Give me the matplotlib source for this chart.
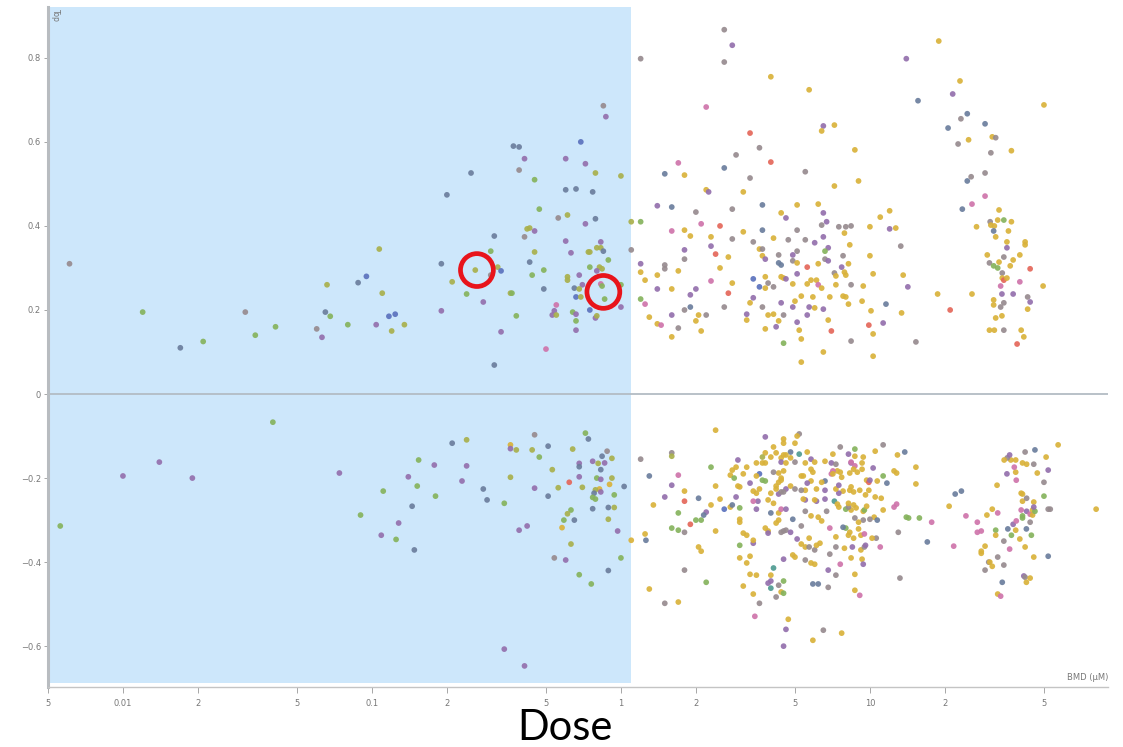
import matplotlib
matplotlib.use("Agg")
import matplotlib.pyplot as plt
from matplotlib.ticker import FixedLocator, FixedFormatter, NullLocator

# ---------------- data ----------------
# Region A: shaded area, positive Top
a_dose = [0.0061, 0.012, 0.017, 0.021, 0.031, 0.034, 0.041, 0.06, 0.063, 0.066,
          0.065, 0.068, 0.08, 0.088, 0.095, 0.107, 0.11, 0.104, 0.12, 0.117,
          0.124, 0.135, 0.85, 0.87, 0.37, 0.39, 0.69, 0.25, 0.41, 0.60,
          0.72, 0.39, 0.79, 1.0, 0.45, 0.20, 0.60, 0.66, 0.77, 0.47,
          0.56, 0.61, 0.79, 0.72, 0.42, 0.43, 0.45, 0.31, 0.41, 0.60,
          0.83, 0.80, 0.83, 0.85, 0.30, 0.45, 0.63, 0.74, 0.75, 0.89,
          0.19, 0.32, 0.43, 0.75, 0.82, 0.84, 0.80, 0.26, 0.30, 0.33,
          0.21, 0.44, 0.49, 0.61, 0.61, 0.68, 0.70, 0.65, 0.68, 0.83,
          0.84, 0.86, 0.66, 0.69, 0.24, 0.28, 0.36, 0.365, 0.49, 1.0,
          1.0, 0.55, 0.54, 0.53, 0.55, 0.64, 0.66, 0.75, 0.79, 0.80,
          0.66, 0.38, 0.19, 0.66, 0.33, 0.50, 0.31]
a_top = [0.31, 0.195, 0.11, 0.125, 0.195, 0.14, 0.16, 0.155, 0.135, 0.26,
         0.195, 0.185, 0.165, 0.265, 0.28, 0.345, 0.24, 0.165, 0.15, 0.185,
         0.19, 0.165, 0.686, 0.66, 0.59, 0.588, 0.60, 0.526, 0.56, 0.56,
         0.548, 0.533, 0.526, 0.519, 0.51, 0.474, 0.486, 0.488, 0.481, 0.44,
         0.419, 0.426, 0.417, 0.405, 0.393, 0.395, 0.388, 0.376, 0.374, 0.364,
         0.362, 0.348, 0.348, 0.34, 0.34, 0.338, 0.336, 0.338, 0.338, 0.319,
         0.31, 0.302, 0.314, 0.302, 0.302, 0.298, 0.293, 0.295, 0.283, 0.293,
         0.267, 0.283, 0.295, 0.279, 0.271, 0.283, 0.26, 0.252, 0.25, 0.262,
         0.257, 0.226, 0.231, 0.231, 0.238, 0.219, 0.24, 0.24, 0.25, 0.26,
         0.207, 0.212, 0.198, 0.188, 0.188, 0.195, 0.19, 0.2, 0.181, 0.186,
         0.174, 0.186, 0.198, 0.152, 0.148, 0.107, 0.069]
a_grp = ("ynsnynnypo" "snnsboopob" "boypssbspp" "pyoonssssn" "yospoopsyp"
         "poosnopoon" "sosnoopoyb" "onnooppsok" "nnbonponsn" "pkpponpbpo"
         "nnpppks")

# Region B: shaded area, negative Top
b_dose = [0.04, 0.01, 0.014, 0.019, 0.0056, 0.074, 0.154, 0.178, 0.14, 0.152,
          0.18, 0.111, 0.09, 0.145, 0.128, 0.109, 0.125, 0.148, 0.21, 0.24,
          0.24, 0.23, 0.28, 0.29, 0.34, 0.36, 0.36, 0.38, 0.45, 0.44,
          0.47, 0.51, 0.36, 0.45, 0.51, 0.53, 0.64, 0.72, 0.74, 0.68,
          0.68, 0.77, 0.81, 0.84, 0.86, 0.88, 0.92, 0.83, 0.68, 0.62,
          0.56, 0.70, 0.80, 0.83, 0.92, 0.90, 0.82, 0.79, 0.83, 0.78,
          0.77, 0.79, 1.03, 0.94, 0.77, 0.89, 0.94, 0.63, 0.61, 0.59,
          0.65, 0.58, 0.89, 0.97, 0.39, 0.42, 0.63, 1.1, 0.54, 0.60,
          1.0, 0.89, 0.68, 0.76, 0.34, 0.41]
b_top = [-0.067, -0.195, -0.162, -0.2, -0.314, -0.188, -0.157, -0.169, -0.197, -0.219,
         -0.243, -0.231, -0.288, -0.267, -0.307, -0.336, -0.346, -0.371, -0.117, -0.109,
         -0.171, -0.207, -0.226, -0.252, -0.26, -0.121, -0.13, -0.133, -0.097, -0.133,
         -0.15, -0.124, -0.198, -0.224, -0.243, -0.18, -0.131, -0.093, -0.107, -0.165,
         -0.173, -0.16, -0.165, -0.148, -0.164, -0.136, -0.153, -0.18, -0.197, -0.21,
         -0.223, -0.222, -0.2, -0.203, -0.2, -0.215, -0.226, -0.228, -0.233, -0.236,
         -0.246, -0.25, -0.22, -0.24, -0.273, -0.27, -0.27, -0.276, -0.285, -0.3,
         -0.3, -0.318, -0.298, -0.326, -0.324, -0.314, -0.357, -0.348, -0.39, -0.395,
         -0.39, -0.42, -0.43, -0.452, -0.607, -0.647]
b_grp = ("npppnpnppn" "nnnsppnsso" "ppssngpoyo" "nsopsoonsp" "spospyospr"
         "oonpoggops" "nnsnssonon" "sgopppogyp" "nsnnpp")

# Region C: right of shading (1.1 - 14.5), positive Top
c_dose = [2.6, 2.8, 2.6, 1.2, 14, 4.0, 5.7, 2.2, 6.5, 6.4,
          7.2, 3.3, 3.6, 4.0, 2.9, 2.6, 1.7, 1.5, 1.8, 5.5,
          8.7, 9.0, 3.3, 7.2, 2.2, 2.25, 3.1, 1.4, 1.6, 2.8,
          3.7, 5.1, 6.2, 4.4, 4.6, 1.1, 1.2, 2.0, 6.5, 6.7,
          6.4, 1.6, 1.8, 2.1, 2.5, 3.7, 3.1, 5.1, 7.5, 8.0,
          8.4, 10, 11, 12, 12, 12.7, 1.9, 2.3, 2.8, 4.1,
          4.7, 5.5, 6.0, 6.5, 7.9, 8.3, 1.1, 1.8, 2.3, 3.4,
          3.6, 3.7, 5.1, 6.8, 13.3, 1.2, 1.5, 1.5, 1.8, 2.4,
          2.7, 3.7, 3.8, 4.3, 4.9, 4.9, 5.1, 6.2, 6.6, 6.6,
          6.8, 7.8, 8.2, 10, 1.2, 1.25, 1.4, 1.7, 1.4, 1.6,
          2.0, 2.3, 2.5, 2.8, 2.7, 3.4, 3.6, 3.8, 3.8, 3.9,
          4.1, 4.3, 4.4, 4.4, 4.5, 4.6, 4.9, 5.1, 5.6, 5.6,
          5.8, 6.1, 6.2, 6.4, 7.2, 7.3, 7.7, 7.9, 8.0, 7.3,
          8.4, 9.4, 10.3, 13.6, 14.2, 1.2, 1.25, 1.3, 1.4, 1.45,
          1.6, 1.7, 1.6, 1.8, 1.9, 1.9, 2.05, 2.0, 2.1, 2.2,
          2.6, 3.2, 3.2, 3.3, 3.4, 3.7, 3.8, 3.9, 4.1, 4.2,
          4.3, 4.4, 4.5, 4.5, 4.9, 5.0, 5.1, 5.2, 5.3, 5.3,
          5.3, 5.6, 5.7, 5.9, 6.0, 6.5, 6.8, 6.9, 6.5, 7.0,
          7.8, 8.0, 8.2, 8.4, 9.3, 10.1, 9.9, 10.3, 10.3, 11.3,
          11.6, 13.4]
c_top = [0.867, 0.83, 0.79, 0.798, 0.798, 0.755, 0.724, 0.683, 0.638, 0.626,
         0.64, 0.621, 0.586, 0.552, 0.569, 0.538, 0.55, 0.524, 0.521, 0.529,
         0.581, 0.507, 0.514, 0.495, 0.486, 0.481, 0.481, 0.448, 0.445, 0.44,
         0.45, 0.45, 0.452, 0.431, 0.419, 0.41, 0.41, 0.433, 0.431, 0.41,
         0.402, 0.388, 0.39, 0.405, 0.40, 0.39, 0.386, 0.39, 0.398, 0.398,
         0.40, 0.398, 0.421, 0.436, 0.393, 0.395, 0.376, 0.374, 0.369, 0.371,
         0.367, 0.367, 0.36, 0.374, 0.383, 0.355, 0.343, 0.343, 0.352, 0.362,
         0.345, 0.345, 0.34, 0.348, 0.352, 0.31, 0.307, 0.298, 0.321, 0.333,
         0.326, 0.329, 0.321, 0.331, 0.331, 0.317, 0.312, 0.31, 0.321, 0.34,
         0.317, 0.329, 0.31, 0.329, 0.29, 0.271, 0.283, 0.293, 0.25, 0.25,
         0.25, 0.269, 0.30, 0.264, 0.24, 0.274, 0.255, 0.279, 0.252, 0.264,
         0.255, 0.312, 0.307, 0.279, 0.276, 0.274, 0.262, 0.286, 0.302, 0.262,
         0.271, 0.271, 0.26, 0.252, 0.288, 0.281, 0.302, 0.29, 0.283, 0.26,
         0.26, 0.257, 0.286, 0.283, 0.255, 0.226, 0.214, 0.183, 0.167, 0.164,
         0.136, 0.157, 0.188, 0.2, 0.207, 0.236, 0.188, 0.174, 0.15, 0.188,
         0.207, 0.19, 0.176, 0.217, 0.229, 0.207, 0.155, 0.188, 0.19, 0.16,
         0.174, 0.217, 0.188, 0.121, 0.207, 0.221, 0.171, 0.152, 0.131, 0.076,
         0.233, 0.188, 0.207, 0.231, 0.205, 0.202, 0.176, 0.231, 0.1, 0.15,
         0.233, 0.231, 0.214, 0.126, 0.221, 0.198, 0.164, 0.143, 0.09, 0.169,
         0.214, 0.193]
c_grp = ("ypyypggkpg" "gryrysksgy" "ggyggpgpsy" "sgggponypp" "ykgkrsgyyy"
         "ygggpgggyg" "yyppggyppy" "gyypypyyyr" "ggpypyggyn" "pyggggggpg"
         "pkggrbbggy" "yssggpgprg" "ggkgygpggg" "ygggpnkggk" "gypyspgggy"
         "ypggpygggp" "gpynpgpggg" "gppggpgggr" "gggyggrggp" "sg")

# Region D: far right (> 14.5), positive Top
d_dose = [18.9, 23, 21.5, 15.6, 50, 24.6, 23.2, 20.6, 29, 31,
          32, 22.6, 24.9, 30.6, 37, 29, 24.6, 25.5, 29, 25.7,
          23.5, 33, 30.4, 32.6, 34.5, 37, 30.6, 31.6, 31.4, 26.8,
          36, 32, 42, 42, 35.5, 35.5, 34.5, 40, 29.6, 30.2,
          31.4, 32.6, 33, 37.6, 36.6, 34, 34, 34.5, 35.5, 44,
          40, 49.6, 33.5, 33.9, 37.6, 34.5, 31.4, 31.4, 33.5, 43,
          44, 43, 32, 33.9, 30.2, 31.6, 34.5, 40.5, 41.5, 39,
          18.7, 25.7, 21, 15.3]
d_top = [0.84, 0.745, 0.714, 0.698, 0.688, 0.667, 0.655, 0.633, 0.643, 0.612,
         0.61, 0.595, 0.605, 0.574, 0.579, 0.526, 0.507, 0.517, 0.471, 0.452,
         0.44, 0.438, 0.41, 0.414, 0.414, 0.41, 0.402, 0.40, 0.388, 0.398,
         0.388, 0.374, 0.362, 0.355, 0.362, 0.348, 0.326, 0.331, 0.331, 0.312,
         0.305, 0.30, 0.314, 0.319, 0.305, 0.288, 0.276, 0.271, 0.276, 0.298,
         0.267, 0.257, 0.257, 0.238, 0.238, 0.217, 0.224, 0.212, 0.207, 0.231,
         0.219, 0.202, 0.181, 0.186, 0.152, 0.152, 0.152, 0.152, 0.136, 0.119,
         0.238, 0.238, 0.2, 0.124]
d_grp = ("ggpsgsyssg" "yygygysykk" "sgygngggsg" "gggggpyggy" "nngggygrgr"
         "kgkppyggyy" "pgggggyggr" "ggry")

# Region E: right of shading (1.1 - 14.5), negative Top
e_dose = [2.4, 3.8, 5.2, 5.1, 4.5, 4.5, 5.0, 4.1, 7.6, 8.7,
          11.3, 13.8, 12.9, 10.5, 9.4, 8.7, 8.2, 7.1, 5.6, 4.8,
          5.2, 4.6, 4.5, 4.2, 3.8, 4.0, 4.4, 4.8, 3.7, 1.6,
          1.6, 1.2, 2.95, 3.5, 3.7, 3.8, 4.4, 4.6, 5.0, 5.5,
          5.8, 6.0, 6.6, 7.0, 7.3, 8.4, 9.3, 2.3, 1.7, 1.3,
          1.8, 1.5, 1.6, 2.4, 2.05, 2.5, 1.35, 1.7, 1.6, 1.7,
          1.8, 1.9, 1.8, 2.0, 2.1, 2.2, 2.15, 2.3, 2.4, 2.05,
          2.1, 1.8, 2.2, 1.7, 1.5, 1.3, 1.26, 1.25, 2.9, 2.8,
          2.75, 2.85, 2.95, 3.0, 2.9, 2.6, 2.75, 2.8, 3.0, 3.0,
          3.0, 3.1, 3.2, 3.0, 3.4, 3.4, 3.0, 3.2, 3.3, 3.5,
          3.1, 3.4, 3.6, 3.45, 3.2, 3.6, 3.5, 3.6, 3.7, 3.8,
          3.5, 3.55, 3.5, 3.4, 4.0, 4.2, 4.3, 4.4, 4.6, 4.3,
          4.4, 4.5, 4.8, 4.1, 4.0, 4.3, 4.4, 4.6, 4.9, 4.3,
          4.2, 3.8, 3.9, 3.9, 4.4, 4.5, 4.6, 4.8, 5.3, 5.1,
          5.3, 5.5, 5.7, 6.0, 6.3, 6.1, 5.7, 4.5, 4.9, 5.0,
          5.5, 5.8, 6.0, 4.1, 4.0, 4.0, 3.9, 4.3, 4.5, 4.0,
          4.2, 4.4, 4.5, 4.7, 4.6, 4.5, 5.9, 6.5, 7.7, 5.9,
          6.2, 6.8, 6.8, 7.3, 7.6, 8.7, 8.7, 9.1, 9.3, 9.4,
          8.4, 9.2, 9.5, 9.6, 7.3, 7.9, 8.5, 8.6, 8.3, 8.0,
          7.8, 7.3, 6.9, 6.9, 8.2, 9.0, 9.2, 9.5, 10.6, 10.2,
          11, 10.4, 10.0, 10.7, 11.3, 9.4, 9.0, 8.7, 9.4, 9.5,
          8.8, 8.4, 8.0, 7.5, 8.2, 6.7, 6.2, 5.8, 6.4, 5.5,
          6.1, 6.0, 6.6, 7.2, 7.4, 8.2, 8.6, 9.7, 10.5, 11.1,
          9.6, 9.9, 9.1, 8.3, 8.4, 8.6, 7.8, 7.5, 7.3, 7.5,
          6.6, 6.6, 6.1, 5.8, 5.5, 5.5, 5.6, 5.3, 5.3, 5.4,
          5.8, 5.9, 6.4, 7.4, 7.6, 7.1, 7.0, 7.7, 8.3, 8.7,
          8.6, 8.4, 9.7, 9.9, 10, 10.7, 11.3, 11.7, 12.5, 12.8,
          10.3, 9.3, 8.9, 7.1, 12.5, 12.8, 14, 14.3, 13, 13.2,
          4.4, 4.3, 4.1, 4.5, 3.1, 3.3, 3.4, 3.9, 5.4, 5.0,
          4.2, 3.3]
e_top = [-0.086, -0.102, -0.095, -0.1, -0.107, -0.117, -0.117, -0.126, -0.126, -0.131,
         -0.121, -0.138, -0.145, -0.136, -0.15, -0.148, -0.143, -0.143, -0.138, -0.138,
         -0.143, -0.145, -0.145, -0.14, -0.14, -0.15, -0.152, -0.152, -0.15, -0.14,
         -0.148, -0.155, -0.157, -0.164, -0.164, -0.164, -0.162, -0.164, -0.162, -0.164,
         -0.155, -0.162, -0.16, -0.164, -0.167, -0.164, -0.164, -0.174, -0.193, -0.195,
         -0.231, -0.245, -0.217, -0.219, -0.248, -0.25, -0.264, -0.283, -0.319, -0.324,
         -0.329, -0.31, -0.255, -0.3, -0.3, -0.281, -0.288, -0.264, -0.326, -0.364,
         -0.374, -0.419, -0.448, -0.495, -0.498, -0.464, -0.348, -0.333, -0.174, -0.181,
         -0.193, -0.2, -0.219, -0.221, -0.245, -0.274, -0.269, -0.264, -0.271, -0.298,
         -0.305, -0.331, -0.336, -0.36, -0.355, -0.348, -0.39, -0.402, -0.429, -0.431,
         -0.457, -0.476, -0.498, -0.529, -0.174, -0.19, -0.195, -0.226, -0.205, -0.207,
         -0.236, -0.255, -0.274, -0.255, -0.236, -0.219, -0.21, -0.205, -0.226, -0.238,
         -0.233, -0.233, -0.219, -0.26, -0.283, -0.283, -0.274, -0.274, -0.298, -0.3,
         -0.307, -0.319, -0.326, -0.331, -0.329, -0.326, -0.324, -0.329, -0.314, -0.345,
         -0.357, -0.364, -0.364, -0.371, -0.355, -0.36, -0.343, -0.393, -0.383, -0.388,
         -0.395, -0.402, -0.405, -0.414, -0.431, -0.445, -0.45, -0.455, -0.445, -0.462,
         -0.483, -0.471, -0.474, -0.536, -0.56, -0.6, -0.586, -0.562, -0.569, -0.452,
         -0.452, -0.46, -0.419, -0.431, -0.405, -0.429, -0.467, -0.479, -0.393, -0.405,
         -0.39, -0.371, -0.364, -0.36, -0.364, -0.367, -0.364, -0.343, -0.329, -0.319,
         -0.317, -0.34, -0.319, -0.381, -0.336, -0.321, -0.336, -0.333, -0.343, -0.343,
         -0.364, -0.293, -0.298, -0.3, -0.276, -0.3, -0.305, -0.295, -0.279, -0.276,
         -0.271, -0.276, -0.274, -0.269, -0.269, -0.279, -0.293, -0.29, -0.302, -0.279,
         -0.255, -0.252, -0.25, -0.255, -0.262, -0.26, -0.264, -0.267, -0.245, -0.248,
         -0.24, -0.229, -0.229, -0.229, -0.221, -0.233, -0.231, -0.236, -0.226, -0.217,
         -0.229, -0.207, -0.226, -0.207, -0.229, -0.252, -0.212, -0.229, -0.195, -0.195,
         -0.179, -0.186, -0.21, -0.183, -0.186, -0.183, -0.19, -0.198, -0.188, -0.171,
         -0.179, -0.162, -0.205, -0.21, -0.205, -0.207, -0.195, -0.212, -0.183, -0.188,
         -0.176, -0.179, -0.186, -0.19, -0.269, -0.262, -0.293, -0.295, -0.329, -0.438,
         -0.2, -0.188, -0.186, -0.183, -0.19, -0.212, -0.231, -0.252, -0.25, -0.226,
         -0.226, -0.386]
e_grp = ("gpygggggyn" "ysggggpggs" "tgggggggoy" "oypgggpgyg" "pggpypgnks"
         "gppgsggnnn" "yrrnnpsggg" "gyngygsggg" "gnggpbgsng" "gggnpggggg"
         "ggykgbggnn" "gppkggggpp" "yyggsgkpsg" "gggpyyypyp" "ggyygggpgg"
         "yggtgppynt" "ygngppgygs" "sypykggkgp" "ggypygpggn" "sgkygggkyg"
         "kgysgygygn" "ggngyygggy" "pgptgggggg" "gggggggpgp" "psgggppygg"
         "gggggkkggk" "gkgrpgnsgg" "pgggkknnyy" "ggyggpgggy" "gg")

# Region F: far right (> 14.5), negative Top
f_dose = [15.3, 15.3, 15.8, 17.7, 17, 21.7, 20.8, 22, 23.3, 24.3,
          27, 27, 28, 28, 28, 29, 29.5, 31, 32.6, 32,
          32, 30, 30.3, 31, 29, 32.6, 34, 32.6, 33.5, 34.5,
          34.5, 35.8, 37, 38.5, 36.4, 40, 42, 45.5, 52, 41.5,
          42, 42.5, 44, 37.6, 38.7, 41, 41, 42.6, 44, 45,
          44, 42.5, 45, 46, 40.5, 41, 40.5, 41, 42.6, 45.5,
          45.5, 44.5, 50, 52, 53, 38.7, 50, 52, 47, 38.5,
          38, 35.5, 32.4, 45.5, 42.6, 41, 38.5, 36.8, 35.6, 34.6,
          36.4, 42, 46, 51, 57, 81]
f_top = [-0.174, -0.214, -0.295, -0.305, -0.352, -0.362, -0.267, -0.238, -0.231, -0.29,
         -0.305, -0.329, -0.326, -0.374, -0.379, -0.362, -0.288, -0.274, -0.283, -0.324,
         -0.336, -0.4, -0.4, -0.41, -0.419, -0.388, -0.448, -0.476, -0.481, -0.407,
         -0.35, -0.321, -0.336, -0.324, -0.369, -0.345, -0.364, -0.388, -0.386, -0.433,
         -0.436, -0.448, -0.438, -0.31, -0.302, -0.295, -0.29, -0.279, -0.286, -0.288,
         -0.305, -0.321, -0.276, -0.279, -0.276, -0.255, -0.236, -0.238, -0.248, -0.257,
         -0.269, -0.336, -0.243, -0.274, -0.274, -0.205, -0.21, -0.181, -0.188, -0.186,
         -0.174, -0.19, -0.217, -0.167, -0.167, -0.164, -0.157, -0.157, -0.152, -0.157,
         -0.145, -0.138, -0.133, -0.15, -0.121, -0.274]
f_grp = ("ggnkskgssk" "kkkgggggkn" "gyggyysgky" "ysngkgggsp" "yggpknnpkg"
         "ysgnkgggyg" "pnnyykypgg" "kpgyggggyg" "pysggg")

# highlighted (red-circled) points
circled_dose = [0.264, 0.85]
circled_top = [0.295, 0.243]

# shaded dose window and axis ranges
shade_dose_max = 1.1
shade_top_min = -0.688
x_range = (0.005, 90.4)
y_range = (-0.696, 0.921)

x_tick_vals = [0.005, 0.01, 0.02, 0.05, 0.1, 0.2, 0.5, 1, 2, 5, 10, 20, 50]
x_tick_labels = ["5", "0.01", "2", "5", "0.1", "2", "5", "1", "2", "5", "10", "2", "5"]
y_tick_vals = [-0.6, -0.4, -0.2, 0, 0.2, 0.4, 0.6, 0.8]
y_tick_labels = ["\u22120.6", "\u22120.4", "\u22120.2", "0", "0.2", "0.4", "0.6", "0.8"]

palette = {
    "g": "#d9b23a",  # gold
    "o": "#a9b04c",  # olive
    "n": "#86b35d",  # green
    "p": "#9470ad",  # purple
    "k": "#cf74ab",  # pink
    "s": "#6b7e9d",  # slate
    "y": "#978b8f",  # grey
    "r": "#e4675a",  # red
    "t": "#4f9b92",  # teal
    "b": "#5b72bd",  # blue
}

regions = [
    (a_dose, a_top, a_grp, "A"),
    (b_dose, b_top, b_grp, "B"),
    (c_dose, c_top, c_grp, "C"),
    (d_dose, d_top, d_grp, "D"),
    (e_dose, e_top, e_grp, "E"),
    (f_dose, f_top, f_grp, "F"),
]
for dd, tt, gg, name in regions:
    assert len(dd) == len(tt) == len(gg), (name, len(dd), len(tt), len(gg))

# ---------------- figure ----------------
W, H = 1123, 747
fig = plt.figure(figsize=(W / 100, H / 100), dpi=100)
fig.patch.set_facecolor("white")
ax = fig.add_axes([48 / W, 1 - 686.5 / H, (1108 - 48) / W, (686.5 - 7) / H])
ax.set_xscale("log")
ax.set_xlim(*x_range)
ax.set_ylim(*y_range)
ax.set_facecolor("white")

# shaded dose window
ymin_frac = (shade_top_min - y_range[0]) / (y_range[1] - y_range[0])
ax.axvspan(x_range[0], shade_dose_max, ymin=ymin_frac, ymax=1,
           facecolor="#cde7fb", edgecolor="none", zorder=0)

# zero line
ax.axhline(0, color="#b3bcc4", lw=1.3, zorder=1)

for dd, tt, gg, name in regions:
    cols = [palette[c] for c in gg]
    ax.scatter(dd, tt, s=17, c=cols, linewidths=0, alpha=0.92, zorder=3)

ax.scatter(circled_dose, circled_top, s=560, facecolors="none",
           edgecolors="#e8141b", linewidths=3.4, zorder=4)

# axes styling
for side in ("top", "right"):
    ax.spines[side].set_visible(False)
ax.spines["left"].set_color("#b8bcc0")
ax.spines["left"].set_linewidth(2.2)
ax.spines["bottom"].set_color("#c4c4c4")
ax.spines["bottom"].set_linewidth(1.0)

ax.xaxis.set_major_locator(FixedLocator(x_tick_vals))
ax.xaxis.set_major_formatter(FixedFormatter(x_tick_labels))
ax.xaxis.set_minor_locator(NullLocator())
ax.yaxis.set_major_locator(FixedLocator(y_tick_vals))
ax.yaxis.set_major_formatter(FixedFormatter(y_tick_labels))
ax.tick_params(axis="x", length=4, width=0.6, color="#999999", pad=5,
               labelsize=6, labelcolor="#777777")
ax.tick_params(axis="y", length=3, width=0.6, color="#999999", pad=2,
               labelsize=6, labelcolor="#777777")

ax.text(0.003, 0.997, "Top", transform=ax.transAxes, rotation=270,
        ha="left", va="top", fontsize=5.5, color="#777777")
ax.text(1.0, 0.006, "BMD (\u00b5M)", transform=ax.transAxes,
        ha="right", va="bottom", fontsize=6, color="#777777")

fig.text(565 / W, 7 / H, "Dose", ha="center", va="baseline",
         fontsize=30, family=["Lato", "DejaVu Sans"], color="black")

fig.savefig("out.png", dpi=100, facecolor="white")
